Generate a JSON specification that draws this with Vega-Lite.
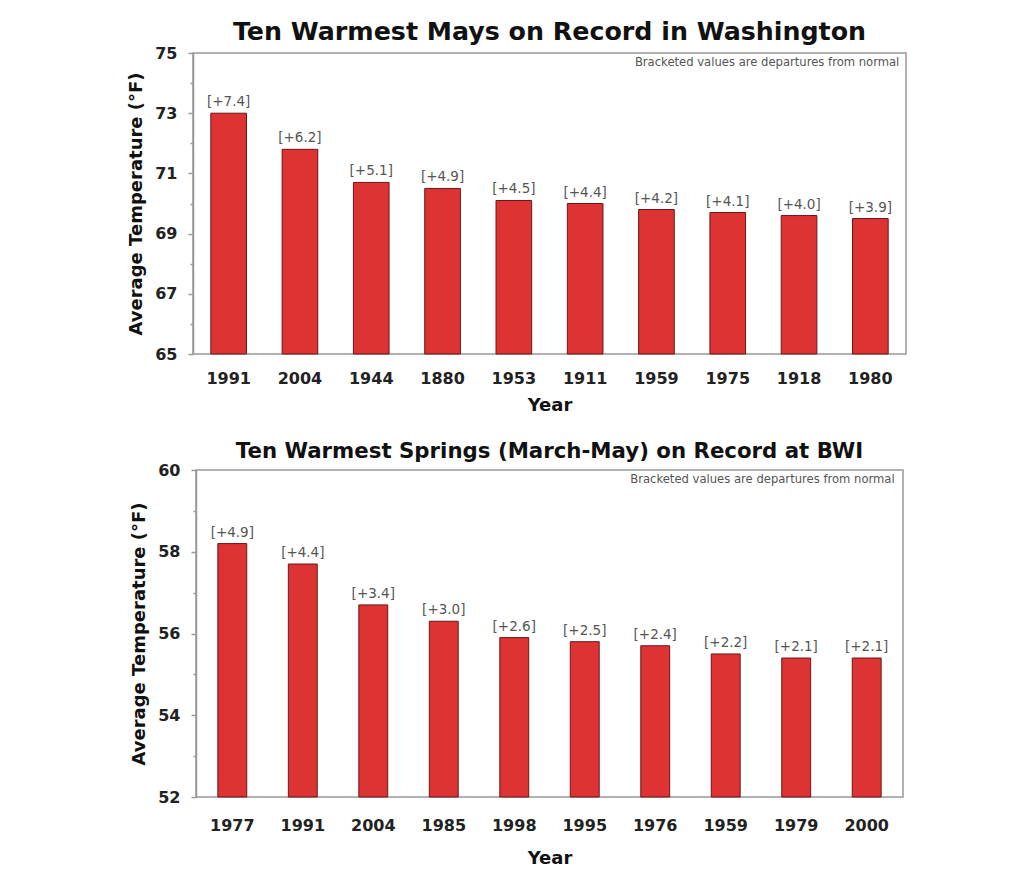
{
  "$schema": "https://vega.github.io/schema/vega-lite/v6.json",
  "padding": {"left": 126, "top": 18, "right": 10, "bottom": 10},
  "background": "white",
  "spacing": 116,
  "bounds": "flush",
  "center": true,
  "config": {
    "view": {"stroke": "#999999", "strokeWidth": 1.5},
    "axis": {
      "labelFont": "DejaVu Sans", "labelFontWeight": "bold", "labelFontSize": 16, "labelColor": "#222222",
      "titleFont": "DejaVu Sans", "titleFontWeight": "bold", "titleFontSize": 18, "titleColor": "#111111",
      "domainColor": "#999999", "domainWidth": 1.5, "tickColor": "#999999", "tickWidth": 1.5, "grid": false
    },
    "text": {"font": "DejaVu Sans"}
  },
  "vconcat": [
    {
      "width": 713,
      "height": 301,
      "title": {"text": "Ten Warmest Mays on Record in Washington", "font": "DejaVu Sans", "fontSize": 25.3, "fontWeight": "bold", "color": "#111111", "frame": "group", "anchor": "middle", "offset": 0},
      "data": {"values": [
        {"year": "1991", "temp": 73.0, "label": "[+7.4]", "note": ""},
        {"year": "2004", "temp": 71.8, "label": "[+6.2]", "note": ""},
        {"year": "1944", "temp": 70.7, "label": "[+5.1]", "note": ""},
        {"year": "1880", "temp": 70.5, "label": "[+4.9]", "note": ""},
        {"year": "1953", "temp": 70.1, "label": "[+4.5]", "note": ""},
        {"year": "1911", "temp": 70.0, "label": "[+4.4]", "note": ""},
        {"year": "1959", "temp": 69.8, "label": "[+4.2]", "note": ""},
        {"year": "1975", "temp": 69.7, "label": "[+4.1]", "note": ""},
        {"year": "1918", "temp": 69.6, "label": "[+4.0]", "note": ""},
        {"year": "1980", "temp": 69.5, "label": "[+3.9]", "note": "Bracketed values are departures from normal"}
      ]},
      "encoding": {
        "x": {"field": "year", "type": "nominal", "sort": null, "title": "Year",
              "scale": {"paddingInner": 0.5, "paddingOuter": 0.25},
              "axis": {"labelAngle": 0, "ticks": false, "tickSize": 0, "domain": false, "labelPadding": 16, "titlePadding": 10}},
        "y": {"field": "temp", "type": "quantitative", "title": "Average Temperature (°F)",
              "scale": {"domain": [65, 75], "nice": false, "zero": false},
              "axis": {"values": [65, 66, 67, 68, 69, 70, 71, 72, 73, 74, 75],
                       "labelExpr": "datum.value % 2 == 1 ? datum.label : ''",
                       "tickSize": {"condition": {"test": "datum.value % 2 == 1", "value": 5}, "value": 3},
                       "labelPadding": 11, "titlePadding": 9}}
      },
      "layer": [
        {"mark": {"type": "bar", "fill": "#DD3333", "stroke": "#6b1717", "strokeWidth": 1},
         "encoding": {"y2": {"datum": 65}}},
        {"mark": {"type": "text", "baseline": "bottom", "dy": -4, "fontSize": 13.5, "color": "#555555"},
         "encoding": {"text": {"field": "label"}}},
        {"mark": {"type": "text", "align": "right", "baseline": "top", "dx": 29, "dy": 4, "fontSize": 11.6, "color": "#555555"},
         "encoding": {"y": {"datum": 75}, "text": {"field": "note"}}}
      ]
    },
    {
      "width": 707,
      "height": 327,
      "title": {"text": "Ten Warmest Springs (March-May) on Record at BWI", "font": "DejaVu Sans", "fontSize": 21.3, "fontWeight": "bold", "color": "#111111", "frame": "group", "anchor": "middle", "offset": 0},
      "data": {"values": [
        {"year": "1977", "temp": 58.2, "label": "[+4.9]", "note": ""},
        {"year": "1991", "temp": 57.7, "label": "[+4.4]", "note": ""},
        {"year": "2004", "temp": 56.7, "label": "[+3.4]", "note": ""},
        {"year": "1985", "temp": 56.3, "label": "[+3.0]", "note": ""},
        {"year": "1998", "temp": 55.9, "label": "[+2.6]", "note": ""},
        {"year": "1995", "temp": 55.8, "label": "[+2.5]", "note": ""},
        {"year": "1976", "temp": 55.7, "label": "[+2.4]", "note": ""},
        {"year": "1959", "temp": 55.5, "label": "[+2.2]", "note": ""},
        {"year": "1979", "temp": 55.4, "label": "[+2.1]", "note": ""},
        {"year": "2000", "temp": 55.4, "label": "[+2.1]", "note": "Bracketed values are departures from normal"}
      ]},
      "encoding": {
        "x": {"field": "year", "type": "nominal", "sort": null, "title": "Year",
              "scale": {"paddingInner": 0.59, "paddingOuter": 0.31},
              "axis": {"labelAngle": 0, "ticks": false, "tickSize": 0, "domain": false, "labelPadding": 20, "titlePadding": 16}},
        "y": {"field": "temp", "type": "quantitative", "title": "Average Temperature (°F)",
              "scale": {"domain": [52, 60], "nice": false, "zero": false},
              "axis": {"values": [52, 53, 54, 55, 56, 57, 58, 59, 60],
                       "labelExpr": "datum.value % 2 == 0 ? datum.label : ''",
                       "tickSize": {"condition": {"test": "datum.value % 2 == 0", "value": 5}, "value": 3},
                       "labelPadding": 11, "titlePadding": 9}}
      },
      "layer": [
        {"mark": {"type": "bar", "fill": "#DD3333", "stroke": "#6b1717", "strokeWidth": 1},
         "encoding": {"y2": {"datum": 52}}},
        {"mark": {"type": "text", "baseline": "bottom", "dy": -4, "fontSize": 13.5, "color": "#555555"},
         "encoding": {"text": {"field": "label"}}},
        {"mark": {"type": "text", "align": "right", "baseline": "top", "dx": 28, "dy": 4, "fontSize": 11.6, "color": "#555555"},
         "encoding": {"y": {"datum": 60}, "text": {"field": "note"}}}
      ]
    }
  ]
}
